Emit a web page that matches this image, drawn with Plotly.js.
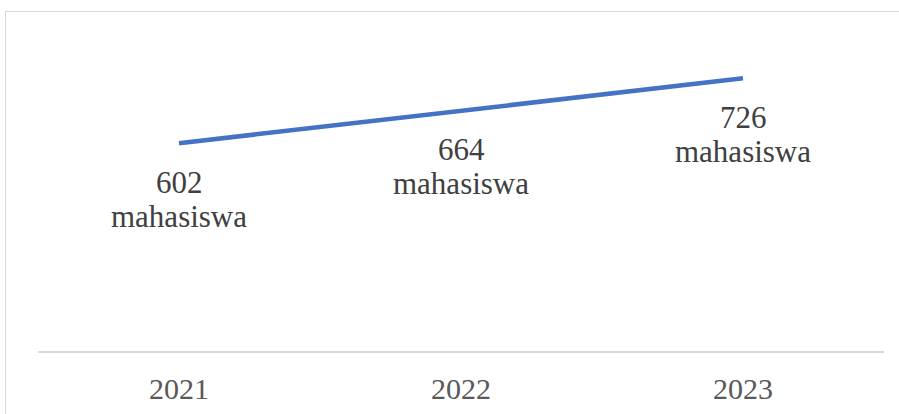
<!DOCTYPE html>
<html>
<head>
<meta charset="utf-8">
<script src="https://cdn.plot.ly/plotly-3.0.1.min.js"></script>
<style>
  html, body { margin: 0; padding: 0; overflow: hidden; background: #ffffff; }
  #wrap { position: relative; width: 899px; height: 414px; overflow: hidden; }
  #chart { position: absolute; left: 0; top: 0; width: 899px; height: 414px; }
  #frame { position: absolute; left: 5px; top: 11px; width: 894px; height: 403px;
           border-top: 1.5px solid #d9d9d9; border-left: 1.5px solid #d9d9d9;
           pointer-events: none; box-sizing: border-box; }
</style>
</head>
<body>
<div id="wrap">
  <div id="chart"></div>
  <div id="frame"></div>
</div>
<script>
const years = ["2021", "2022", "2023"];
const students = [602, 664, 726];
const unitLabel = "mahasiswa";

const serif = "Liberation Serif, Times New Roman, Times, serif";

const trace = {
  x: years,
  y: students,
  type: "scatter",
  mode: "lines",
  line: { color: "#4472C4", width: 4.5, shape: "linear" },
  hoverinfo: "none"
};

const annotations = [];
years.forEach((yr, i) => {
  annotations.push({
    x: i, y: students[i], xref: "x", yref: "y",
    text: String(students[i]), showarrow: false,
    xanchor: "center", yanchor: "middle", yshift: -39,
    font: { family: serif, size: 31, color: "#404040" }
  });
  annotations.push({
    x: i, y: students[i], xref: "x", yref: "y",
    text: unitLabel, showarrow: false,
    xanchor: "center", yanchor: "middle", yshift: -73,
    font: { family: serif, size: 31, color: "#404040" }
  });
});

const layout = {
  width: 899, height: 414,
  margin: { l: 38, r: 15, t: 37, b: 63 },
  paper_bgcolor: "#ffffff",
  plot_bgcolor: "#ffffff",
  showlegend: false,
  xaxis: {
    type: "category",
    range: [-0.5, 2.5],
    showgrid: false, zeroline: false,
    showline: true, linecolor: "#d9d9d9", linewidth: 1.5,
    ticks: "",
    ticklabelstandoff: 10,
    tickfont: { family: serif, size: 30, color: "#595959" },
    fixedrange: true
  },
  yaxis: {
    range: [205, 805],
    visible: false,
    showgrid: false, zeroline: false,
    fixedrange: true
  },
  annotations: annotations
};

Plotly.newPlot("chart", [trace], layout, { staticPlot: true, displayModeBar: false });
</script>
</body>
</html>
